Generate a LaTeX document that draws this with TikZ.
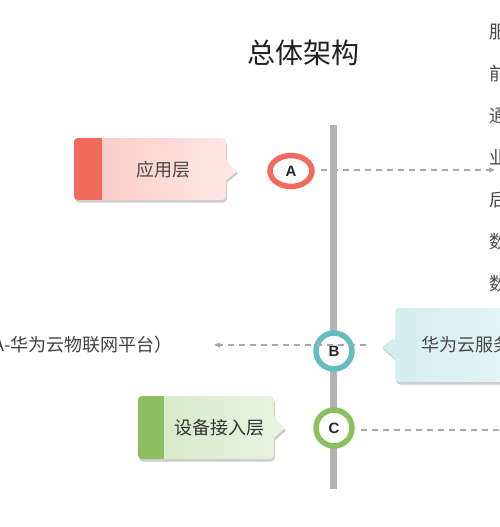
\documentclass[tikz,border=0pt]{standalone}
\usepackage{fontspec}
\usepackage{xcolor}
\usetikzlibrary{calc,arrows.meta,shapes.geometric,shadows}
\setmainfont{Noto Sans CJK SC}
\newfontfamily\lblfont{Liberation Sans}
\definecolor{spinegray}{HTML}{B2B2B2}
\definecolor{linkgray}{HTML}{A8A8A8}
\definecolor{appred}{HTML}{F26A5B}
\definecolor{appredL}{HTML}{FBC8C2}
\definecolor{appredR}{HTML}{FEE8E5}
\definecolor{cloudteal}{HTML}{63BCBF}
\definecolor{cloudtealL}{HTML}{D3ECED}
\definecolor{cloudtealR}{HTML}{E4F4F4}
\definecolor{devgreen}{HTML}{8CBF5F}
\definecolor{devgreenL}{HTML}{D4E8C5}
\definecolor{devgreenR}{HTML}{E9F3E2}
\tikzset{
  ring/.style={circle, draw=#1, line width=5.5pt, fill=white, minimum size=36pt, inner sep=0pt, font=\lblfont\bfseries\fontsize{15}{15}\selectfont, text=black!85},
  link/.style={linkgray, line width=1.2pt, dash pattern=on 6pt off 5pt, -{Triangle[length=6pt,width=5pt]}},
  boxtext/.style={font=\fontsize{18}{18}\selectfont, text=black!72},
  callout/.style={drop shadow={opacity=0.4, shadow xshift=1pt, shadow yshift=-2.5pt}},
}

\begin{document}
\begin{tikzpicture}[x=1pt, y=-1pt]
\clip (0,0) rectangle (500,527);
\node[font=\fontsize{28}{28}\selectfont, text=black!88] (title) at (303,53) {总体架构};
\foreach \txt [count=\i from 0] in {服务,前端,通信,业务,后台,数据,数据}
  \node[boxtext, anchor=west, inner sep=0pt] (list\i) at (489,32+42*\i) {\txt};
\node[ring=appred, ellipse, minimum width=42pt, minimum height=31pt] (A) at (291,171) {A};
\coordinate (Aend) at (495,170);
\draw[link] ([xshift=6pt]A.east |- Aend) -- (Aend);
\draw[line width=7pt, spinegray] (333,125) -- (333,489);
\path[callout, left color=appredL, right color=appredR] [rounded corners=4pt] (74,170) -- (74,138) -- (226,138) -- (226,161) [sharp corners] -- (237,171) -- (226,180) [rounded corners=4pt] -- (226,200) -- (74,200) -- cycle;
\begin{scope}
\clip[rounded corners=4pt] (74,138) rectangle (226,200);
\fill[appred] (74,138) rectangle (102,200);
\end{scope}
\node[boxtext] (app) at (163,170) {应用层};
\path[callout, left color=cloudtealL, right color=cloudtealR] [rounded corners=4pt] (395,345) -- (395,337) [sharp corners] -- (382,347) -- (395,358) [rounded corners=4pt] -- (395,382) -- (520,382) -- (520,308) -- (395,308) -- cycle;
\node[boxtext, anchor=west] (cloud) at (418,345) {华为云服务器};
\path[callout, left color=devgreenL, right color=devgreenR] [rounded corners=4pt] (138,428) -- (138,396) -- (274,396) -- (274,418) [sharp corners] -- (285,428) -- (274,438) [rounded corners=4pt] -- (274,459) -- (138,459) -- cycle;
\begin{scope}
\clip[rounded corners=4pt] (138,396) rectangle (274,459);
\fill[devgreen] (138,396) rectangle (164,459);
\end{scope}
\node[boxtext, text=black!80] (dev) at (219,428) {设备接入层};
\node[ring=cloudteal] (B) at (334,351) {B};
\node[ring=devgreen] (C) at (334,428) {C};
\node[boxtext, anchor=east, text=black!75] (iot) at (176,345) {IoTDA-华为云物联网平台）};
\coordinate (Bstart) at (366,345);
\coordinate (Bend) at (214,345);
\draw[link] (Bstart) -- (Bend);
\coordinate (Cend) at (510,430);
\draw[link] ([xshift=6pt]C.east |- Cend) -- (Cend);
\end{tikzpicture}
\end{document}
